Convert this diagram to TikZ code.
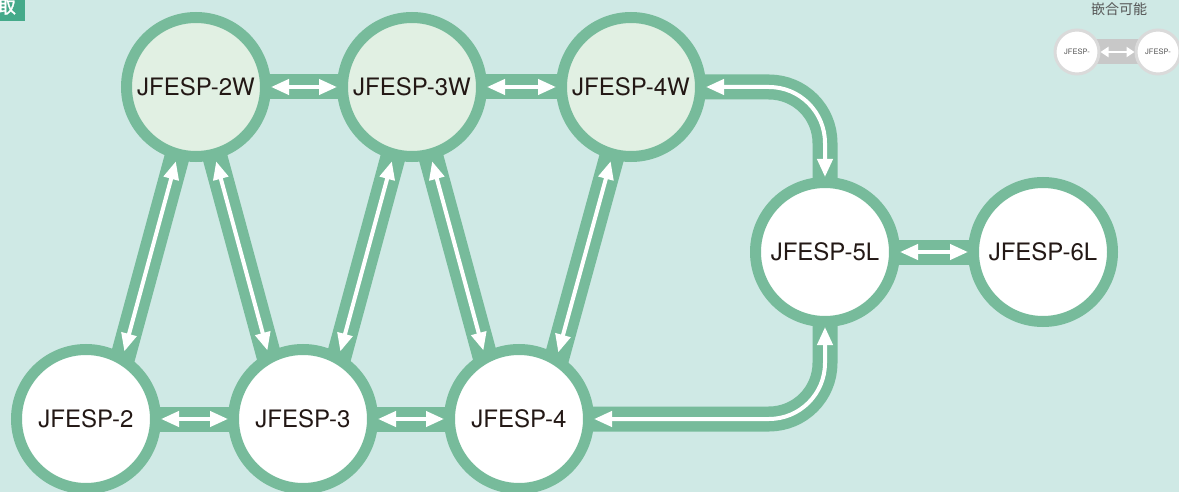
\documentclass[tikz,border=0pt]{standalone}
\usepackage{fontspec}
\setmainfont{TeX Gyre Heros}
\newfontfamily\cjk{Noto Sans CJK JP}
\newfontfamily\cjkb[FakeBold=1.5]{Noto Sans CJK JP}
\usetikzlibrary{arrows.meta,calc,backgrounds}
\definecolor{bgc}{HTML}{CFE9E5}
\definecolor{ring}{HTML}{77BB9B}
\definecolor{wfill}{HTML}{E1F0E3}
\definecolor{txt}{HTML}{231815}
\definecolor{boxg}{HTML}{45AA8A}
\definecolor{lgring}{HTML}{DADADA}
\definecolor{lgband}{HTML}{C8C8C8}
\definecolor{lgtxt}{HTML}{555555}
\pgfdeclarelayer{bands}
\pgfsetlayers{background,bands,main}
\tikzset{
  sp/.style={circle,draw=ring,line width=11pt,minimum size=139pt,inner sep=0pt,outer sep=5.5pt,
    fill=white,text=txt,font=\fontsize{24}{24}\selectfont},
  spw/.style={sp,fill=wfill},
  band/.style={draw=ring,line width=25pt},
  wa/.style={draw=white,line width=4pt,{Triangle[length=18pt,width=15pt]}-{Triangle[length=18pt,width=15pt]}},
  lgc/.style={circle,draw=lgring,line width=3pt,fill=white,minimum size=44pt,inner sep=0pt,outer sep=1.5pt,
    text=lgtxt,font=\fontsize{7.5}{7.5}\selectfont},
}
\begin{document}
\begin{tikzpicture}[x=1pt,y=-1pt]
\useasboundingbox (0,0) rectangle (1179,492);
\begin{pgfonlayer}{background}
\fill[bgc] (0,0) rectangle (1179,492);
\end{pgfonlayer}
\clip (0,0) rectangle (1179,492);
% top-left tab
\fill[boxg] (0,0) rectangle (25,21);
\begin{scope}
\clip (0,0) rectangle (25,21);
\node[anchor=east,inner sep=0pt,text=white,font=\cjkb\fontsize{18}{18}\selectfont] (tab) at (16,7) {取};
\end{scope}
% circles
\node[spw] (W2) at (196,87) {JFESP-2W};
\node[spw] (W3) at (412,87) {JFESP-3W};
\node[spw] (W4) at (631,87) {JFESP-4W};
\node[sp] (B2) at (86,419) {JFESP-2};
\node[sp] (B3) at (303,419) {JFESP-3};
\node[sp] (B4) at (519,419) {JFESP-4};
\node[sp] (L5) at (825,252) {JFESP-5L};
\node[sp] (L6) at (1043,252) {JFESP-6L};
% offset end points on bottom circles
\coordinate (b2r) at ($(B2.center)+(20,0)$);
\coordinate (b3l) at ($(B3.center)+(-17,0)$);
\coordinate (b3r) at ($(B3.center)+(19,0)$);
\coordinate (b4l) at ($(B4.center)+(-17,0)$);
\coordinate (b4r) at ($(B4.center)+(21,0)$);
\begin{pgfonlayer}{bands}
\draw[band] (W2.center) -- (W3.center) -- (W4.center);
\draw[band] (B2.center) -- (B3.center) -- (B4.center);
\draw[band] (L5.center) -- (L6.center);
\draw[band] (W2.center) -- (b2r);
\draw[band] (W2.center) -- (b3l);
\draw[band] (W3.center) -- (b3r);
\draw[band] (W3.center) -- (b4l);
\draw[band] (W4.center) -- (b4r);
\draw[band,rounded corners=56pt] (W4.center) -| (L5.center);
\draw[band,rounded corners=56pt] (B4.center) -| (L5.center);
\end{pgfonlayer}
% white double arrows
\draw[wa] (W2) -- (W3);
\draw[wa] (W3) -- (W4);
\draw[wa] (B2) -- (B3);
\draw[wa] (B3) -- (B4);
\draw[wa] (L5) -- (L6);
\draw[wa] ($(W2.center)!77pt!(b2r)$) -- ($(b2r)!70pt!(W2.center)$);
\draw[wa] ($(W2.center)!77pt!(b3l)$) -- ($(b3l)!71pt!(W2.center)$);
\draw[wa] ($(W3.center)!77pt!(b3r)$) -- ($(b3r)!70pt!(W3.center)$);
\draw[wa] ($(W3.center)!77pt!(b4l)$) -- ($(b4l)!71pt!(W3.center)$);
\draw[wa] ($(W4.center)!77pt!(b4r)$) -- ($(b4r)!69pt!(W4.center)$);
\draw[wa,rounded corners=56pt] (W4.east) -| (L5.north);
\draw[wa,rounded corners=56pt] (B4.east) -| (L5.south);
% legend
\node[text=lgtxt,font=\cjk\fontsize{14}{14}\selectfont,inner sep=0pt] (lgt) at (1119,9) {嵌合可能};
\node[lgc] (lc1) at (1077,52) {JFESP-};
\node[lgc] (lc2) at (1158,52) {JFESP-};
\begin{pgfonlayer}{bands}
\draw[draw=lgband,line width=25pt] (lc1.center) -- (lc2.center);
\end{pgfonlayer}
\draw[draw=white,line width=2.5pt,{Triangle[length=8pt,width=10pt]}-{Triangle[length=8pt,width=10pt]}] (lc1) -- (lc2);
\end{tikzpicture}
\end{document}
